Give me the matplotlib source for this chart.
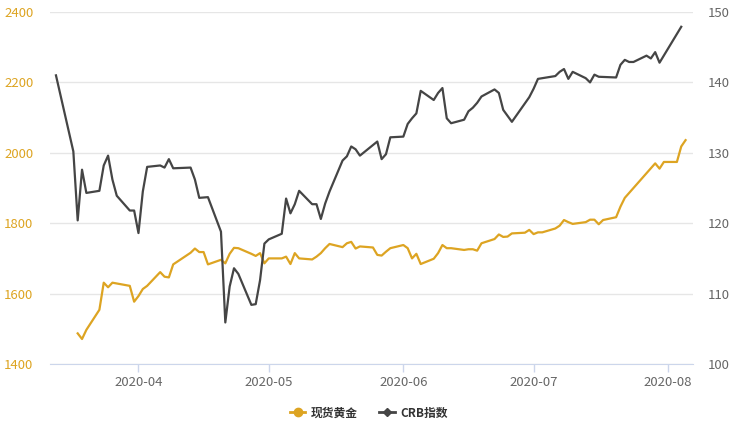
import numpy as np
import pandas as pd
import matplotlib
matplotlib.use('Agg')
import matplotlib.pyplot as plt
import matplotlib.dates as mdates
from matplotlib.lines import Line2D

plt.rcParams['font.family'] = ['Noto Sans CJK SC', 'DejaVu Sans']

# spot gold (left axis)
gold_dates = ['2020-03-18', '2020-03-19', '2020-03-20', '2020-03-23', '2020-03-24', '2020-03-25',
              '2020-03-26', '2020-03-30', '2020-03-31', '2020-04-01', '2020-04-02', '2020-04-03',
              '2020-04-06', '2020-04-07', '2020-04-08', '2020-04-09', '2020-04-13', '2020-04-14',
              '2020-04-15', '2020-04-16', '2020-04-17', '2020-04-20', '2020-04-21', '2020-04-22',
              '2020-04-23', '2020-04-24', '2020-04-27', '2020-04-28', '2020-04-29', '2020-04-30',
              '2020-05-01', '2020-05-04', '2020-05-05', '2020-05-06', '2020-05-07', '2020-05-08',
              '2020-05-11', '2020-05-12', '2020-05-13', '2020-05-14', '2020-05-15', '2020-05-18',
              '2020-05-19', '2020-05-20', '2020-05-21', '2020-05-22', '2020-05-25', '2020-05-26',
              '2020-05-27', '2020-05-28', '2020-05-29', '2020-06-01', '2020-06-02', '2020-06-03',
              '2020-06-04', '2020-06-05', '2020-06-08', '2020-06-09', '2020-06-10', '2020-06-11',
              '2020-06-12', '2020-06-15', '2020-06-16', '2020-06-17', '2020-06-18', '2020-06-19',
              '2020-06-22', '2020-06-23', '2020-06-24', '2020-06-25', '2020-06-26', '2020-06-29',
              '2020-06-30', '2020-07-01', '2020-07-02', '2020-07-03', '2020-07-06', '2020-07-07',
              '2020-07-08', '2020-07-09', '2020-07-10', '2020-07-13', '2020-07-14', '2020-07-15',
              '2020-07-16', '2020-07-17', '2020-07-20', '2020-07-21', '2020-07-22', '2020-07-23',
              '2020-07-24', '2020-07-27', '2020-07-28', '2020-07-29', '2020-07-30', '2020-07-31',
              '2020-08-03', '2020-08-04', '2020-08-05']
gold_values = [1487, 1471, 1497, 1554, 1631, 1618,
               1631, 1622, 1577, 1593, 1613, 1622,
               1661, 1648, 1646, 1683, 1716, 1728,
               1718, 1718, 1683, 1696, 1686, 1713,
               1730, 1729, 1713, 1707, 1715, 1686,
               1700, 1700, 1705, 1684, 1715, 1700,
               1697, 1705, 1715, 1729, 1741, 1732,
               1743, 1747, 1728, 1734, 1731, 1710,
               1708, 1719, 1729, 1738, 1729, 1700,
               1713, 1684, 1699, 1715, 1738, 1729,
               1729, 1724, 1726, 1726, 1722, 1743,
               1755, 1768, 1761, 1762, 1771, 1773,
               1781, 1769, 1774, 1774, 1785, 1793,
               1809, 1803, 1798, 1803, 1810, 1810,
               1797, 1809, 1817, 1847, 1872, 1886,
               1900, 1942, 1956, 1970, 1955, 1974,
               1974, 2018, 2036]

# CRB index (right axis)
crb_dates = ['2020-03-13', '2020-03-17', '2020-03-18', '2020-03-19', '2020-03-20', '2020-03-23',
             '2020-03-24', '2020-03-25', '2020-03-26', '2020-03-27', '2020-03-30', '2020-03-31',
             '2020-04-01', '2020-04-02', '2020-04-03', '2020-04-06', '2020-04-07', '2020-04-08',
             '2020-04-09', '2020-04-13', '2020-04-14', '2020-04-15', '2020-04-17', '2020-04-20',
             '2020-04-21', '2020-04-22', '2020-04-23', '2020-04-24', '2020-04-27', '2020-04-28',
             '2020-04-29', '2020-04-30', '2020-05-01', '2020-05-04', '2020-05-05', '2020-05-06',
             '2020-05-07', '2020-05-08', '2020-05-11', '2020-05-12', '2020-05-13', '2020-05-14',
             '2020-05-15', '2020-05-18', '2020-05-19', '2020-05-20', '2020-05-21', '2020-05-22',
             '2020-05-26', '2020-05-27', '2020-05-28', '2020-05-29', '2020-06-01', '2020-06-02',
             '2020-06-03', '2020-06-04', '2020-06-05', '2020-06-08', '2020-06-09', '2020-06-10',
             '2020-06-11', '2020-06-12', '2020-06-15', '2020-06-16', '2020-06-17', '2020-06-18',
             '2020-06-19', '2020-06-22', '2020-06-23', '2020-06-24', '2020-06-26', '2020-06-30',
             '2020-07-01', '2020-07-02', '2020-07-06', '2020-07-07', '2020-07-08', '2020-07-09',
             '2020-07-10', '2020-07-13', '2020-07-14', '2020-07-15', '2020-07-16', '2020-07-20',
             '2020-07-21', '2020-07-22', '2020-07-23', '2020-07-24', '2020-07-27', '2020-07-28',
             '2020-07-29', '2020-07-30', '2020-08-04']
crb_values = [141.0, 130.2, 120.4, 127.6, 124.3, 124.6,
              128.2, 129.6, 126.2, 123.9, 121.8, 121.8,
              118.6, 124.5, 128.0, 128.2, 127.9, 129.1,
              127.8, 127.9, 126.2, 123.6, 123.7, 118.8,
              105.9, 111.0, 113.6, 112.8, 108.4, 108.5,
              111.9, 117.1, 117.7, 118.5, 123.5, 121.4,
              122.7, 124.6, 122.7, 122.7, 120.6, 122.8,
              124.5, 128.9, 129.5, 130.9, 130.5, 129.6,
              131.6, 129.1, 129.8, 132.2, 132.3, 134.1,
              134.9, 135.6, 138.8, 137.5, 138.5, 139.2,
              134.9, 134.2, 134.7, 135.9, 136.4, 137.1,
              138.0, 139.0, 138.5, 136.1, 134.4, 137.9,
              139.1, 140.5, 140.9, 141.5, 141.9, 140.5,
              141.5, 140.6, 140.0, 141.1, 140.8, 140.7,
              142.5, 143.2, 142.9, 142.9, 143.8, 143.4,
              144.3, 142.8, 147.9]

gold_color = '#DDA422'
crb_color = '#454545'
tick_gray = '#666666'

fig = plt.figure(figsize=(7.38, 4.26), dpi=100)
ax = fig.add_axes([50 / 738, 1 - 364 / 426, 643 / 738, 352 / 426])
ax2 = ax.twinx()

ax.plot(pd.to_datetime(gold_dates), gold_values, color=gold_color, lw=1.6, zorder=3)
ax2.plot(pd.to_datetime(crb_dates), crb_values, color=crb_color, lw=1.6, zorder=3)

ax.set_ylim(1400, 2400)
ax.set_yticks(np.arange(1400, 2401, 200))
ax2.set_ylim(100, 150)
ax2.set_yticks(np.arange(100, 151, 10))
ax.set_xlim(pd.Timestamp('2020-03-11 15:00'), pd.Timestamp('2020-08-06 17:00'))

ax.xaxis.set_major_locator(mdates.MonthLocator())
ax.xaxis.set_major_formatter(mdates.DateFormatter('%Y-%m'))

ax.grid(axis='y', color='#e6e6e6', lw=1)
ax.set_axisbelow(True)
for a in (ax, ax2):
    for s in ('top', 'left', 'right', 'bottom'):
        a.spines[s].set_visible(False)
ax.spines['bottom'].set_visible(True)
ax.spines['bottom'].set_color('#ccd6eb')

ax.tick_params(axis='x', colors='#ccd6eb', length=6, width=1, labelcolor=tick_gray,
               labelsize=9.5, pad=3)
ax.tick_params(axis='y', length=0, labelcolor=gold_color, labelsize=9.5, pad=12)
ax2.tick_params(axis='y', length=0, labelcolor=tick_gray, labelsize=9.5, pad=11)

handles = [
    Line2D([], [], color=gold_color, lw=2, marker='o', markersize=6),
    Line2D([], [], color=crb_color, lw=2, marker='D', markersize=4.5),
]
fig.legend(handles, ['现货黄金', 'CRB指数'], loc='center', bbox_to_anchor=(0.5, 1 - 413 / 426),
           ncol=2, frameon=False, handlelength=1.3, columnspacing=1.8, handletextpad=0.5,
           prop={'family': ['Noto Sans CJK SC', 'DejaVu Sans'], 'weight': 'bold', 'size': 8.5},
           labelcolor='#333333')

fig.savefig('out.png', dpi=100)
